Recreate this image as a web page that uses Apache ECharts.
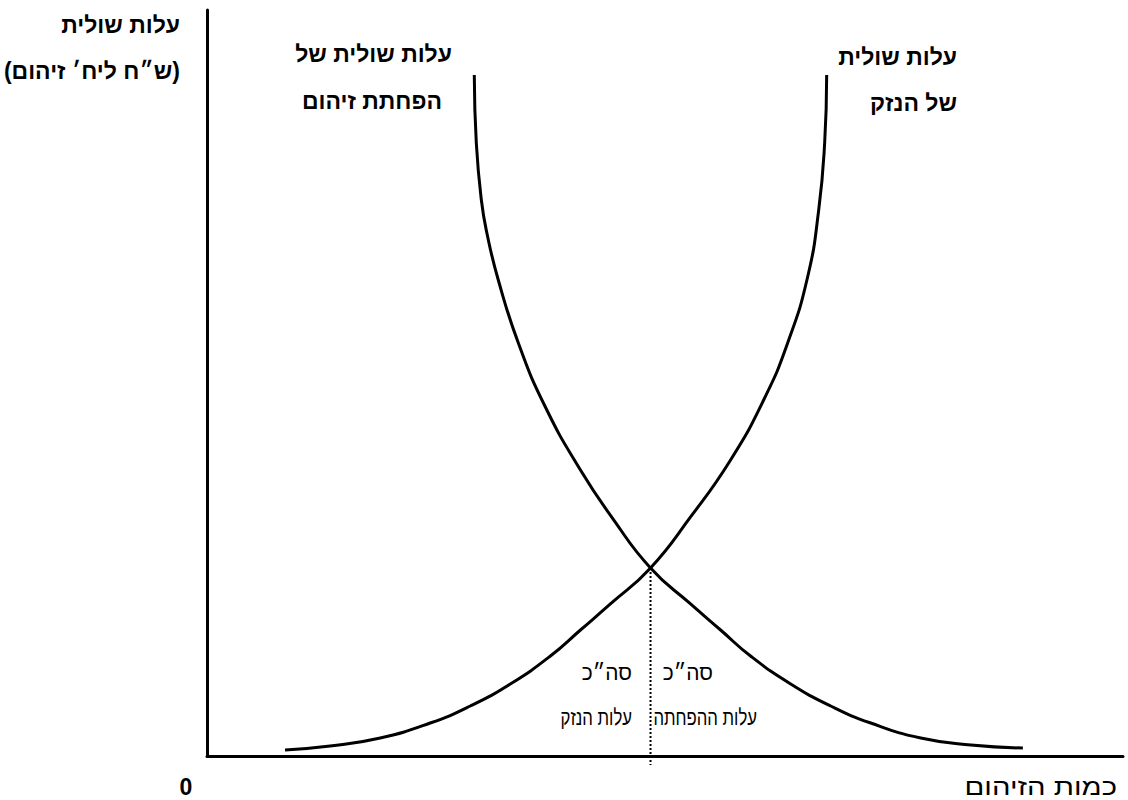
<!DOCTYPE html>
<html lang="he">
<head>
<meta charset="utf-8">
<title>עלות שולית של הפחתת זיהום ושל הנזק</title>
<script src="https://cdn.jsdelivr.net/npm/echarts@6/dist/echarts.min.js"></script>
<style>
  html, body { margin: 0; padding: 0; background: #ffffff; }
  #chart { width: 1128px; height: 800px; }
</style>
</head>
<body>
<div id="chart"></div>
<script>
// Marginal abatement cost (falls as pollution grows): [quantity, cost]
const abatementCost = [
  [29.18, 91.29], [29.40, 82.17], [29.95, 74.53], [30.60, 69.84], [31.80, 63.81],
  [33.99, 55.36], [36.94, 46.78], [40.77, 38.34], [44.26, 31.90], [48.42, 25.20],
  [52.79, 20.38], [56.07, 16.89], [59.34, 13.40], [63.72, 9.65], [68.09, 6.70],
  [72.46, 4.42], [77.92, 2.41], [83.39, 1.47], [89.07, 1.07]
];

// Marginal damage cost (rises as pollution grows): [quantity, cost]
const damageCost = [
  [8.52, 0.80], [13.44, 1.34], [18.91, 2.41], [24.37, 4.42], [28.74, 6.70],
  [33.11, 9.65], [37.49, 13.40], [40.77, 16.89], [44.04, 20.38], [48.42, 25.20],
  [52.79, 32.04], [57.16, 39.68], [60.77, 47.72], [63.39, 55.36], [65.57, 64.21],
  [66.78, 73.19], [67.43, 82.17], [67.65, 91.29]
];

// Optimum: where the two curves cross, dropped down past the quantity axis
const dropLine = [[48.42, 25.20], [48.42, -1.2]];

// Text drawn on the chart
const yAxisTitle = ['עלות שולית', '(ש״ח ליח׳ זיהום)'];
const xAxisTitle = 'כמות הזיהום';
const originLabel = '0';
const abatementTitle = ['עלות שולית של', 'הפחתת זיהום'];
const damageTitle = ['עלות שולית', 'של הנזק'];
const damageTotal = ['סה״כ', 'עלות הנזק'];
const abatementTotal = ['סה״כ', 'עלות ההפחתה'];

const FONT = '"Liberation Sans", "DejaVu Sans", sans-serif';
const titleStyle = { fontFamily: FONT, fontSize: 23, fontWeight: 'bold', fill: '#000' };
const areaStyle = { fontFamily: FONT, fontSize: 22, fontWeight: 'normal', fill: '#000' };
const axisStyle = { fontFamily: FONT, fontSize: 24, fontWeight: 'normal', fill: '#000' };

function txt(text, x, y, align, style, sx) {
  return {
    type: 'text', x: x, y: y, scaleX: sx || 1, silent: true,
    style: Object.assign({ text: text, textAlign: align, textVerticalAlign: 'middle' }, style)
  };
}

const chart = echarts.init(document.getElementById('chart'), null, { renderer: 'svg' });

chart.setOption({
  backgroundColor: '#ffffff',
  animation: false,
  grid: { left: 207, right: 5, top: 10, bottom: 44 },
  xAxis: {
    type: 'value', min: 0, max: 100,
    axisLine: { onZero: false, lineStyle: { color: '#000', width: 3 } },
    axisTick: { show: false }, axisLabel: { show: false }, splitLine: { show: false }
  },
  yAxis: {
    type: 'value', min: 0, max: 100,
    axisLine: { show: true, onZero: false, lineStyle: { color: '#000', width: 3 } },
    axisTick: { show: false }, axisLabel: { show: false }, splitLine: { show: false }
  },
  series: [
    {
      name: 'abatement', type: 'line', data: abatementCost, smooth: 0.5,
      showSymbol: false, lineStyle: { color: '#000', width: 3 }
    },
    {
      name: 'damage', type: 'line', data: damageCost, smooth: 0.5,
      showSymbol: false, lineStyle: { color: '#000', width: 3 }
    },
    {
      name: 'optimum', type: 'line', data: dropLine, clip: false,
      showSymbol: false, lineStyle: { color: '#000', width: 2, type: [2, 2] }
    }
  ],
  graphic: [
    txt(yAxisTitle[0], 180, 25, 'right', titleStyle),
    txt(yAxisTitle[1], 180, 71, 'right', titleStyle),
    txt(abatementTitle[0], 452, 54, 'right', titleStyle),
    txt(abatementTitle[1], 442, 101, 'right', titleStyle),
    txt(damageTitle[0], 957, 57, 'right', titleStyle),
    txt(damageTitle[1], 957, 103, 'right', titleStyle),
    txt(damageTotal[0], 632, 673, 'right', areaStyle, 0.95),
    txt(damageTotal[1], 632, 717, 'right', areaStyle, 0.76),
    txt(abatementTotal[0], 713, 673, 'right', areaStyle, 0.95),
    txt(abatementTotal[1], 757, 717, 'right', areaStyle, 0.76),
    txt(originLabel, 186, 787, 'center', titleStyle),
    txt(xAxisTitle, 1117, 787, 'right', axisStyle, 1.22)
  ]
});
</script>
</body>
</html>
